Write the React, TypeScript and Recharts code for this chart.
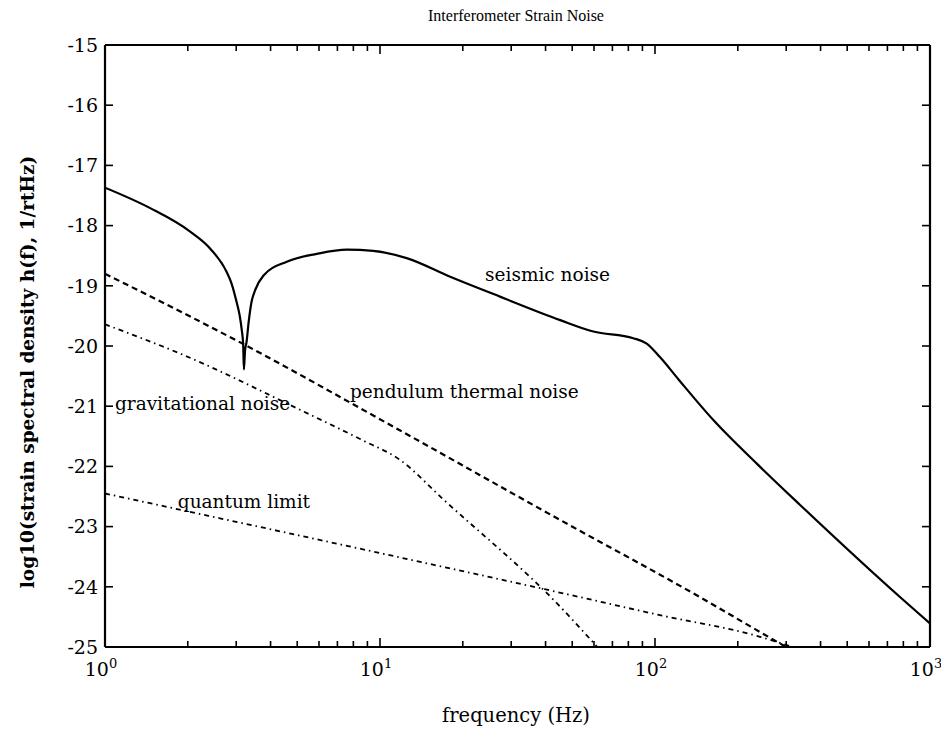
import React from 'react';
import { LineChart, Line, XAxis, YAxis, ReferenceDot } from 'recharts';

// ---- data (frequency in Hz, value = log10 strain spectral density) ----
const seismicFreq = [1, 1.46, 2.04, 2.41, 2.77, 2.88, 3.01, 3.09, 3.14, 3.18, 3.2, 3.23, 3.27, 3.33, 3.41, 3.51, 3.77, 4.58, 5.89, 7.57, 9.46, 12.5, 18.0, 27.3, 45.2, 59.7, 83.4, 93.3, 104, 122, 163, 234, 337, 800, 1000];
const seismicVal = [-17.37, -17.71, -18.10, -18.38, -18.77, -18.95, -19.27, -19.5, -19.72, -19.98, -20.39, -20.08, -19.94, -19.6, -19.27, -19.08, -18.83, -18.60, -18.47, -18.40, -18.42, -18.54, -18.85, -19.18, -19.57, -19.76, -19.87, -19.96, -20.18, -20.56, -21.23, -21.95, -22.64, -24.22, -24.61];

const pendulumFreq = [1, 3.16, 11.8, 45.2, 138, 277, 300];
const pendulumVal = [-18.8, -19.96, -21.40, -22.89, -24.11, -24.91, -25.0];

const gravFreq = [1, 1.93, 5.12, 8.5, 11.8, 17.1, 45.2, 61.7];
const gravVal = [-19.64, -20.15, -21.06, -21.55, -21.89, -22.56, -24.33, -25.0];

const quantumFreq = [1, 10, 46.5, 104, 241, 316];
const quantumVal = [-22.45, -23.44, -24.11, -24.47, -24.83, -25.0];

const xTicks = [1, 2, 3, 4, 5, 6, 7, 8, 9, 10, 20, 30, 40, 50, 60, 70, 80, 90, 100, 200, 300, 400, 500, 600, 700, 800, 900, 1000];
const yTicks = [-25, -24, -23, -22, -21, -20, -19, -18, -17, -16, -15];

const annotations = [
  { f: 24.1, v: -18.82, text: 'seismic noise' },
  { f: 7.78, v: -20.76, text: 'pendulum thermal noise' },
  { f: 1.087, v: -20.95, text: 'gravitational noise' },
  { f: 1.84, v: -22.58, text: 'quantum limit' },
];

const titleText = 'Interferometer Strain Noise';
const xLabelText = 'frequency (Hz)';
const yLabelText = 'log10(strain spectral density h(f), 1/rtHz)';

const toRows = (fs: number[], vs: number[]) => fs.map((f, i) => ({ f, v: vs[i] }));
const seismicData = toRows(seismicFreq, seismicVal);
const pendulumData = toRows(pendulumFreq, pendulumVal);
const gravData = toRows(gravFreq, gravVal);
const quantumData = toRows(quantumFreq, quantumVal);

const FONT = '"DejaVu Serif", "Liberation Serif", serif';

const isMajor = (v: number) => Math.abs(Math.log10(v) - Math.round(Math.log10(v))) < 1e-6;

const BottomTick = (props: any) => {
  const { x, y, payload } = props;
  const v = payload.value;
  const major = isMajor(v);
  const exp = Math.round(Math.log10(v));
  return (
    <g>
      <line x1={x} x2={x} y1={y} y2={y - (major ? 9 : 6)} stroke="#000" strokeWidth={1.6} />
      {major && (
        <text x={x - 4} y={y + 29} textAnchor="middle" fontFamily={FONT} fontSize={19} fill="#000">
          10<tspan dy={-8} fontSize={13}>{exp}</tspan>
        </text>
      )}
    </g>
  );
};

const TopTick = (props: any) => {
  const { x, y, payload } = props;
  const major = isMajor(payload.value);
  return <line x1={x} x2={x} y1={y} y2={y + (major ? 9 : 6)} stroke="#000" strokeWidth={1.6} />;
};

const LeftTick = (props: any) => {
  const { x, y, payload } = props;
  return (
    <g>
      <line x1={x} x2={x + 8} y1={y} y2={y} stroke="#000" strokeWidth={1.6} />
      <text x={x - 7} y={y} dy="0.36em" textAnchor="end" fontFamily={FONT} fontSize={19} fill="#000">
        {payload.value}
      </text>
    </g>
  );
};

const RightTick = (props: any) => {
  const { x, y } = props;
  return <line x1={x - 8} x2={x} y1={y} y2={y} stroke="#000" strokeWidth={1.6} />;
};

const makeLabelShape = (text: string) => (props: any) => {
  const { cx, cy } = props;
  return (
    <text x={cx} y={cy} dy="0.35em" textAnchor="start" fontFamily={FONT} fontSize={18.5} fill="#000">
      {text}
    </text>
  );
};

export default function App() {
  const axisLine = { stroke: '#000', strokeWidth: 2.2 };
  return (
    <div style={{ position: 'absolute', left: 0, top: 0, width: 941, height: 736, background: '#fff' }}>
      <LineChart
        width={941}
        height={736}
        margin={{ top: 44, right: 10, bottom: 39, left: 45 }}
      >
        <XAxis
          xAxisId="b"
          dataKey="f"
          type="number"
          scale="log"
          domain={[1, 1000]}
          allowDataOverflow
          ticks={xTicks}
          interval={0}
          tickSize={0}
          tickMargin={0}
          height={50}
          axisLine={axisLine}
          tickLine={false}
          tick={<BottomTick />}
        />
        <XAxis
          xAxisId="t"
          orientation="top"
          dataKey="f"
          type="number"
          scale="log"
          domain={[1, 1000]}
          allowDataOverflow
          ticks={xTicks}
          interval={0}
          tickSize={0}
          tickMargin={0}
          height={1}
          axisLine={axisLine}
          tickLine={false}
          tick={<TopTick />}
        />
        <YAxis
          yAxisId="l"
          type="number"
          domain={[-25, -15]}
          allowDataOverflow
          ticks={yTicks}
          interval={0}
          tickSize={0}
          tickMargin={0}
          width={60}
          axisLine={axisLine}
          tickLine={false}
          tick={<LeftTick />}
        />
        <YAxis
          yAxisId="r"
          orientation="right"
          type="number"
          domain={[-25, -15]}
          allowDataOverflow
          ticks={yTicks}
          interval={0}
          tickSize={0}
          tickMargin={0}
          width={1}
          axisLine={axisLine}
          tickLine={false}
          tick={<RightTick />}
        />
        <Line xAxisId="b" yAxisId="l" data={seismicData} dataKey="v" type="monotone" stroke="#000" strokeWidth={2.2} dot={false} isAnimationActive={false} />
        <Line xAxisId="b" yAxisId="l" data={pendulumData} dataKey="v" type="monotone" stroke="#000" strokeWidth={2.2} strokeDasharray="6 4" dot={false} isAnimationActive={false} />
        <Line xAxisId="b" yAxisId="l" data={gravData} dataKey="v" type="monotone" stroke="#000" strokeWidth={1.8} strokeDasharray="5 4 1.5 4" dot={false} isAnimationActive={false} />
        <Line xAxisId="b" yAxisId="l" data={quantumData} dataKey="v" type="monotone" stroke="#000" strokeWidth={1.8} strokeDasharray="5 4 1.5 4" dot={false} isAnimationActive={false} />
        {annotations.map((a) => (
          <ReferenceDot key={a.text} xAxisId="b" yAxisId="l" x={a.f} y={a.v} r={0} ifOverflow="visible" shape={makeLabelShape(a.text)} />
        ))}
      </LineChart>
      <svg width={941} height={736} style={{ position: 'absolute', left: 0, top: 0, pointerEvents: 'none' }}>
        <text x={516} y={21} textAnchor="middle" fontFamily='"Liberation Serif", serif' fontSize={16} fill="#000">{titleText}</text>
        <text x={516} y={722} textAnchor="middle" fontFamily={FONT} fontSize={19.5} fill="#000">{xLabelText}</text>
        <text x={28} y={372} textAnchor="middle" fontFamily={FONT} fontWeight="bold" fontSize={18.5} fill="#000" transform="rotate(-90 28 372)" dy="0.35em">{yLabelText}</text>
      </svg>
    </div>
  );
}
